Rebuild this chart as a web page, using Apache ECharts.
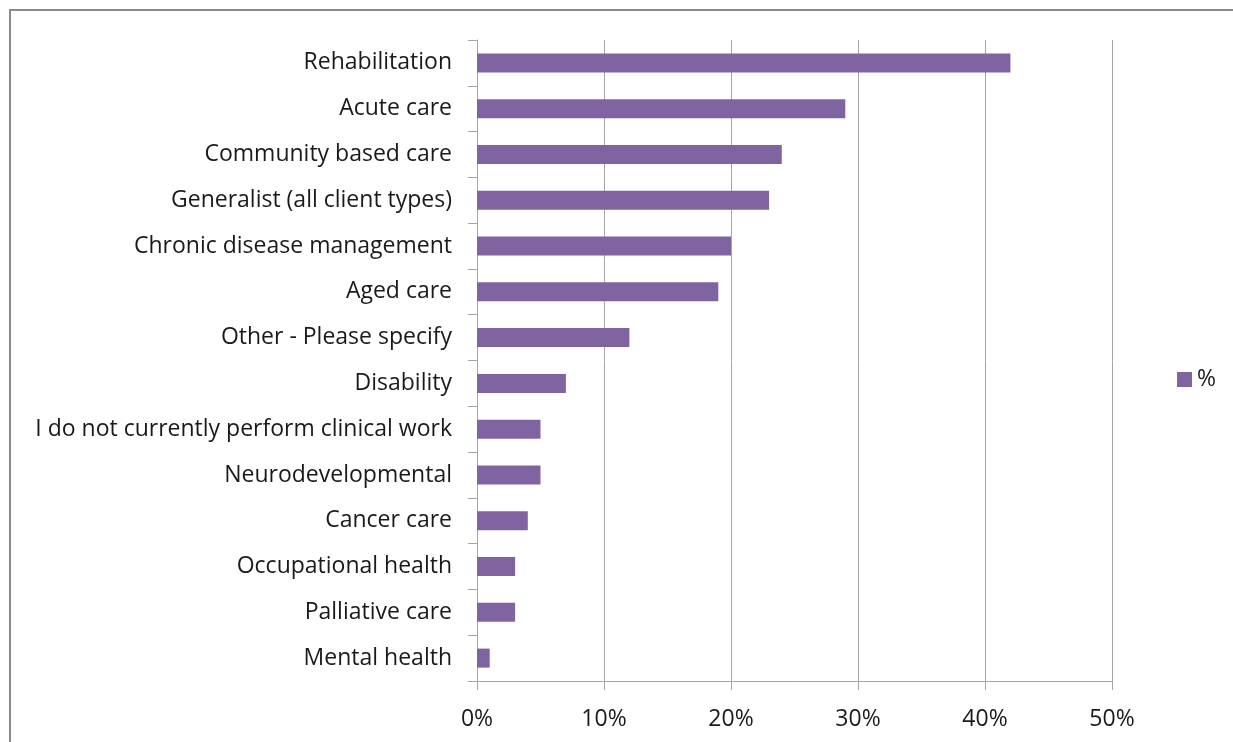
<!DOCTYPE html>
<html><head><meta charset="utf-8">
<script src="https://cdn.jsdelivr.net/npm/echarts@6/dist/echarts.min.js"></script>
<style>html,body{margin:0;padding:0;background:#fff}#c{width:1233px;height:742px}</style>
</head><body><div id="c"></div>
<script>
const categories = ["Rehabilitation","Acute care","Community based care","Generalist (all client types)","Chronic disease management","Aged care","Other - Please specify","Disability","I do not currently perform clinical work","Neurodevelopmental","Cancer care","Occupational health","Palliative care","Mental health"];
const values = [42,29,24,23,20,19,12,7,5,5,4,3,3,1];
const xTicks = [0,10,20,30,40,50];
const seriesName = "%";

const chart = echarts.init(document.getElementById('c'), null, {renderer:'canvas'});
const font = "'Open Sans', 'Liberation Sans', sans-serif";
chart.setOption({
  animation:false,
  graphic:[{type:'rect',shape:{x:10,y:10,width:1240,height:760},style:{fill:'none',stroke:'#8a8a8a',lineWidth:2},silent:true}],
  grid:{left:477,right:121,top:40,bottom:61,containLabel:false,outerBoundsMode:'none'},
  legend:{data:[seriesName],orient:'vertical',left:1172,top:363,itemWidth:15,itemHeight:15,itemGap:5,
    textStyle:{fontFamily:font,fontSize:23,color:'#1a1a1a'},icon:'rect'},
  xAxis:{type:'value',min:xTicks[0],max:xTicks[xTicks.length-1],interval:10,
    axisLine:{show:true,lineStyle:{color:'#a6a6a6',width:1}},
    axisTick:{show:true,length:9,lineStyle:{color:'#a6a6a6'}},
    splitLine:{show:true,lineStyle:{color:'#a6a6a6',width:1}},
    axisLabel:{formatter:v=>v+'%',fontFamily:font,fontSize:23,color:'#1a1a1a',margin:27}},
  yAxis:{type:'category',data:categories,inverse:true,
    axisLine:{show:true,lineStyle:{color:'#a6a6a6'}},
    axisTick:{show:true,length:9,interval:0,lineStyle:{color:'#a6a6a6'}},
    axisLabel:{fontFamily:font,fontSize:23,color:'#1a1a1a',margin:25,interval:0}},
  series:[{name:seriesName,type:'bar',data:values,barWidth:19,itemStyle:{color:'#8064a2'}}]
});
</script></body></html>
